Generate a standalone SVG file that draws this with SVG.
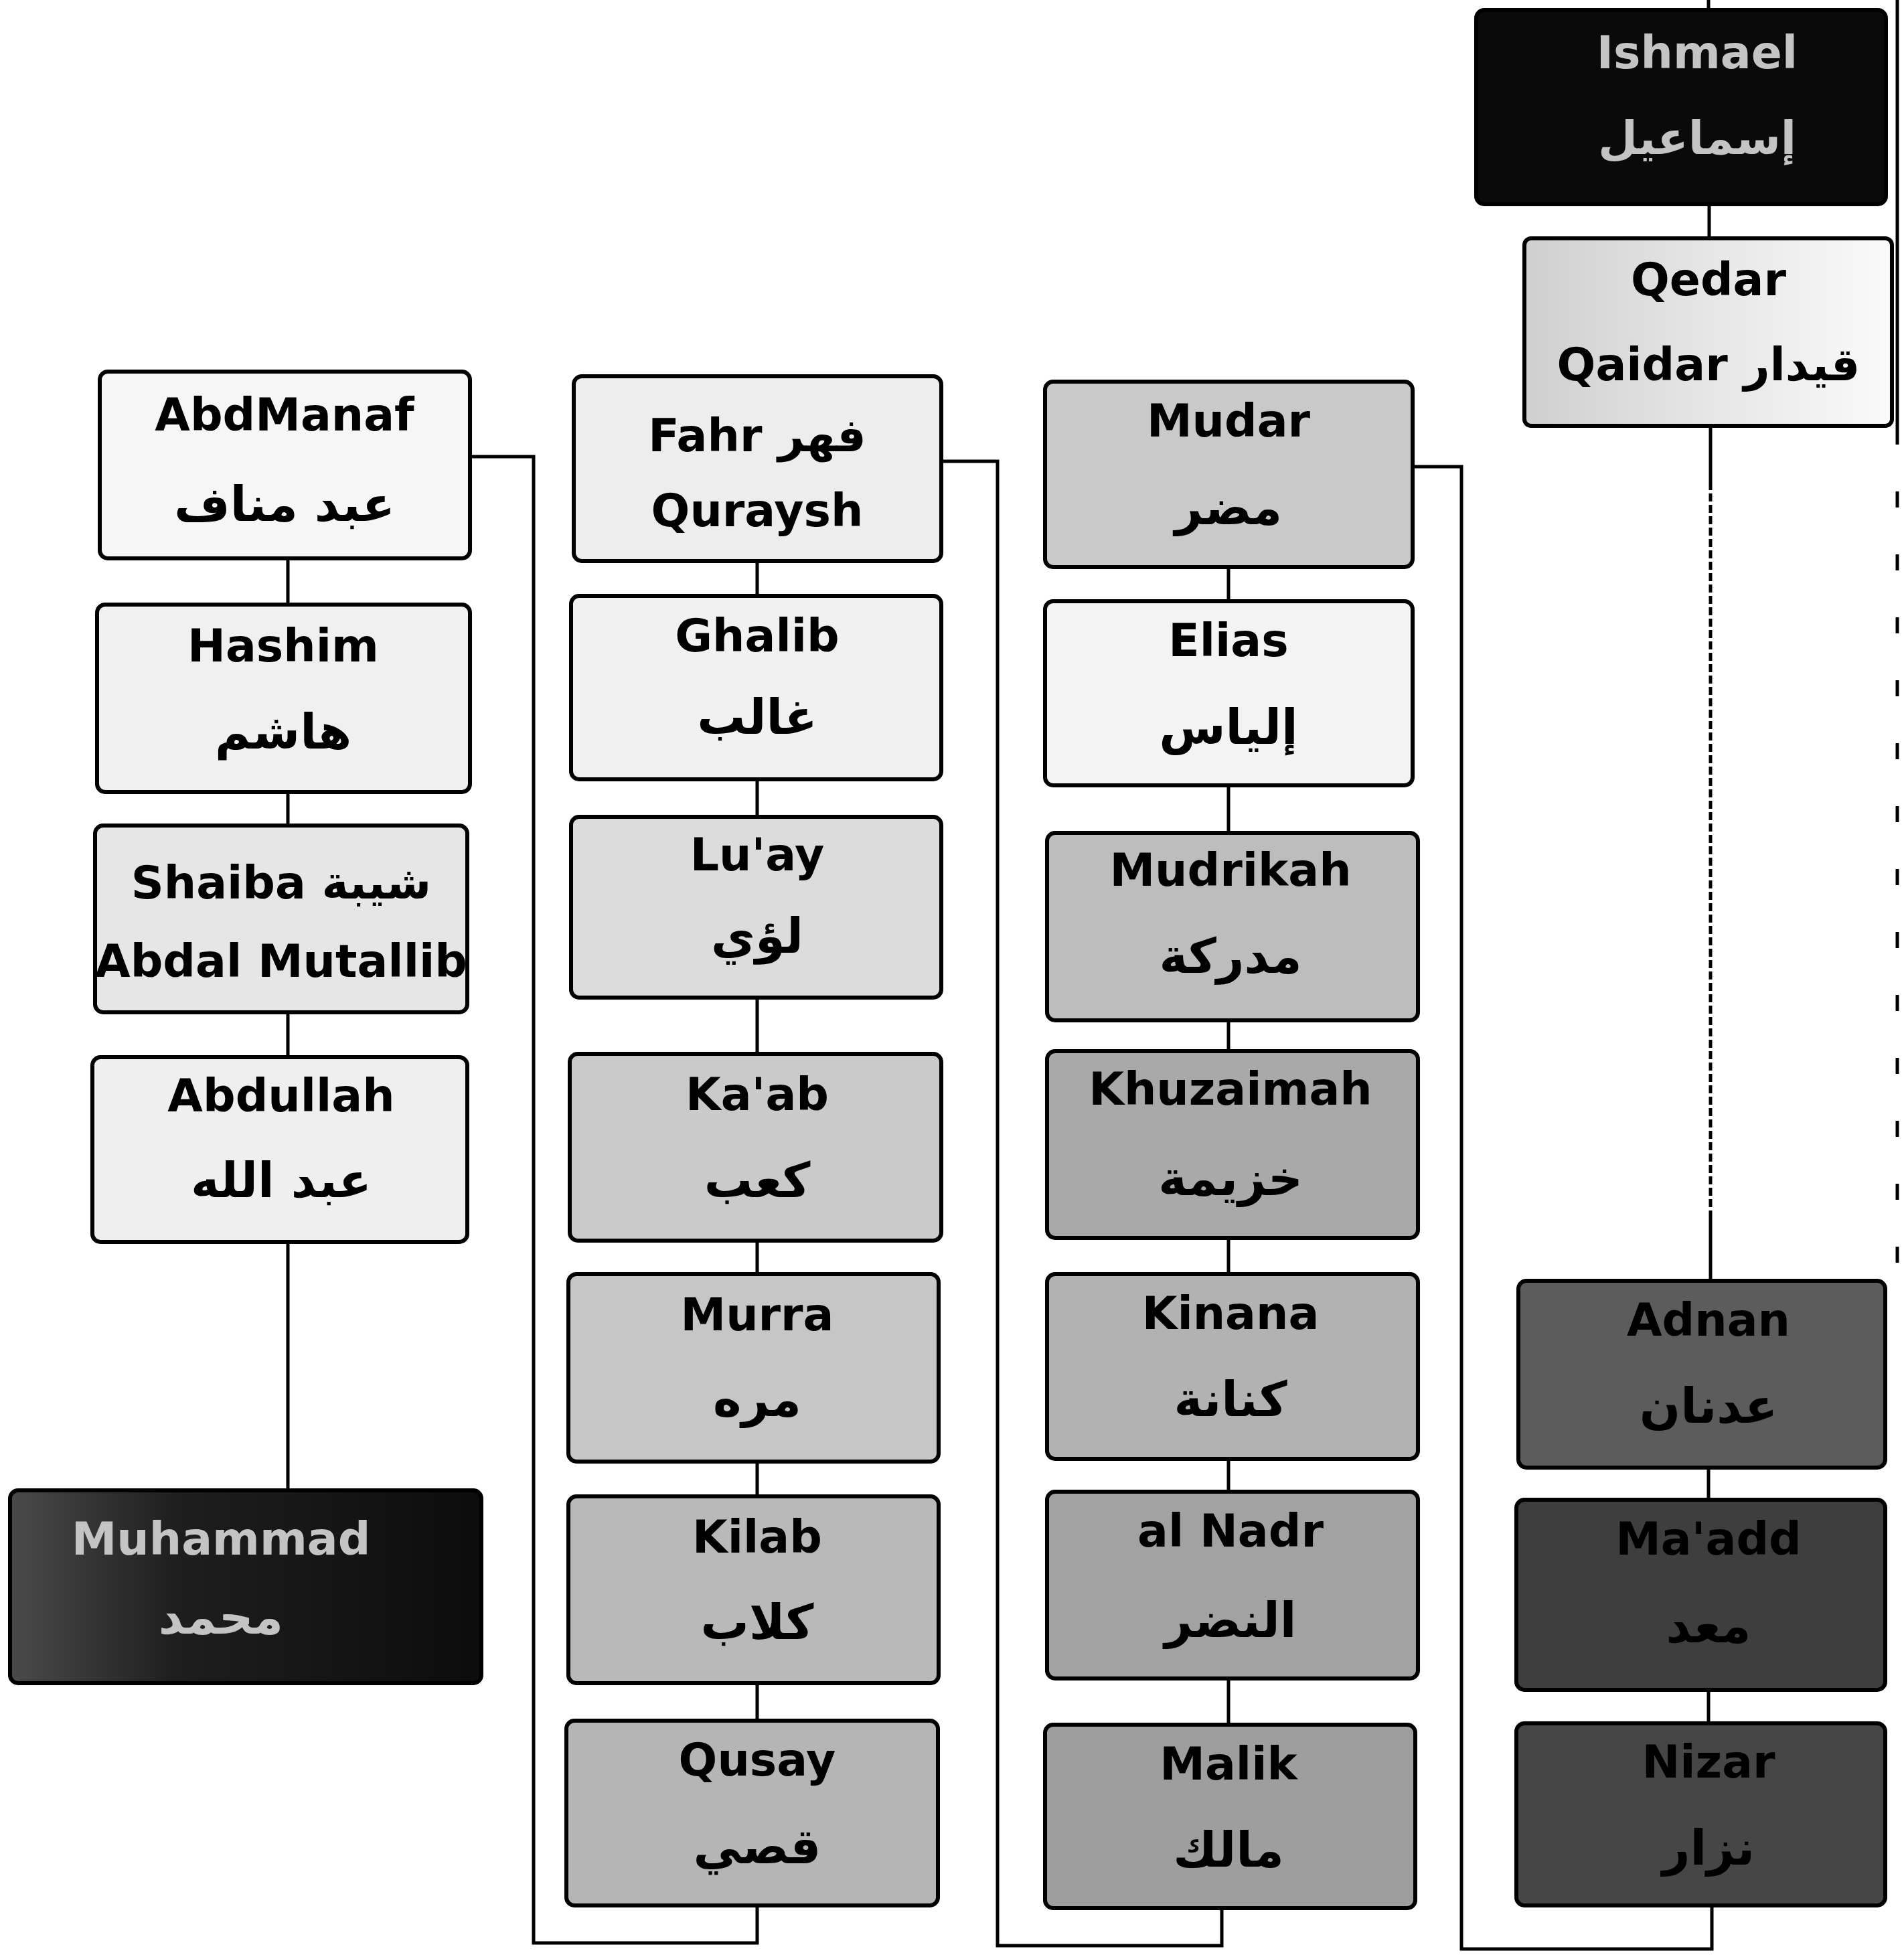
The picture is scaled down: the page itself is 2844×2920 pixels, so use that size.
<svg xmlns="http://www.w3.org/2000/svg" width="2844" height="2920" viewBox="0 0 2844 2920">
<style>
.box{stroke:#000;stroke-width:6}
.t{font-family:"DejaVu Sans","Liberation Sans",sans-serif;font-weight:bold;font-size:68px;text-anchor:middle;fill:#000}
.a{font-size:72px}
.w{fill:#c4c4c4}
.c{fill:none;stroke:#000;stroke-width:5}
</style>
<defs>
<linearGradient id="gMuh" x1="0" y1="0" x2="1" y2="0">
<stop offset="0" stop-color="#4a4a4a"/><stop offset="0.35" stop-color="#1e1e1e"/><stop offset="1" stop-color="#0c0c0c"/>
</linearGradient>
<linearGradient id="gQed" x1="0" y1="0" x2="1" y2="0">
<stop offset="0" stop-color="#cfcfcf"/><stop offset="0.5" stop-color="#e6e6e6"/><stop offset="1" stop-color="#fafafa"/>
</linearGradient>
</defs>
<rect width="2844" height="2920" fill="#fff"/>

<g id="connectors">
<path class="c" d="M2552 0 V15"/>
<path class="c" d="M2553 305 V356"/>
<path class="c" d="M2555 636 V720"/>
<path class="c" d="M2555 720 V1810" stroke-width="8" stroke-dasharray="12 5"/>
<path class="c" d="M2555 1810 V1913"/>
<path class="c" d="M2834 0 V640" stroke-width="5"/>
<path class="c" d="M2834 640 V1900" stroke-width="3" stroke-dasharray="24 70"/>
<path class="c" d="M430 834 V903 M430 1183 V1233 M430 1512 V1579 M430 1855 V2226"/>
<path class="c" d="M1131 838 V890 M1131 1164 V1220 M1131 1490 V1574 M1131 1853 V1903 M1131 2183 V2235 M1131 2514 V2570"/>
<path class="c" d="M1835 847 V898 M1835 1173 V1244 M1835 1524 V1570 M1835 1849 V1903 M1835 2179 V2228 M1835 2507 V2576"/>
<path class="c" d="M2552 2192 V2240 M2552 2524 V2574"/>
<path class="c" d="M702 682 H797 V2902 H1131 V2846"/>
<path class="c" d="M1406 689 H1490 V2906 H1825 V2850"/>
<path class="c" d="M2110 697 H2183 V2911 H2557 V2846"/>
</g>

<g id="abdmanaf"><rect class="box" x="149" y="555" width="553" height="279" rx="12" fill="#f6f6f6"/>
<text class="t" x="425" y="643">AbdManaf</text><text class="t a" x="425" y="778">عبد مناف</text></g>
<g id="hashim"><rect class="box" x="145" y="903" width="557" height="280" rx="12" fill="#f0f0f0"/>
<text class="t" x="423" y="988">Hashim</text><text class="t a" x="423" y="1118">هاشم</text></g>
<g id="shaiba"><rect class="box" x="142" y="1233" width="556" height="279" rx="12" fill="#e6e6e6"/>
<text class="t" x="420" y="1342">Shaiba شيبة</text><text class="t" x="420" y="1459">Abdal Mutallib</text></g>
<g id="abdullah"><rect class="box" x="138" y="1579" width="560" height="276" rx="12" fill="#efefef"/>
<text class="t" x="420" y="1660">Abdullah</text><text class="t a" x="420" y="1788">عبد الله</text></g>
<g id="muhammad"><rect class="box" x="15" y="2226" width="704" height="288" rx="12" fill="url(#gMuh)"/>
<text class="t w" x="330" y="2322" font-size="80">Muhammad</text><text class="t w a" x="330" y="2440">محمد</text></g>

<g id="fahr"><rect class="box" x="857" y="562" width="549" height="276" rx="12" fill="#ededed"/>
<text class="t" x="1131" y="674">Fahr فهر</text><text class="t" x="1131" y="786">Quraysh</text></g>
<g id="ghalib"><rect class="box" x="853" y="890" width="553" height="274" rx="12" fill="#f1f1f1"/>
<text class="t" x="1131" y="973">Ghalib</text><text class="t a" x="1131" y="1096">غالب</text></g>
<g id="luay"><rect class="box" x="853" y="1220" width="553" height="270" rx="12" fill="#dcdcdc"/>
<text class="t" x="1131" y="1300">Lu'ay</text><text class="t a" x="1131" y="1423">لؤي</text></g>
<g id="kaab"><rect class="box" x="851" y="1574" width="555" height="279" rx="12" fill="#cacaca"/>
<text class="t" x="1131" y="1658">Ka'ab</text><text class="t a" x="1131" y="1788">كعب</text></g>
<g id="murra"><rect class="box" x="849" y="1903" width="553" height="280" rx="12" fill="#c6c6c6"/>
<text class="t" x="1131" y="1987">Murra</text><text class="t a" x="1131" y="2115">مره</text></g>
<g id="kilab"><rect class="box" x="849" y="2235" width="553" height="279" rx="12" fill="#b9b9b9"/>
<text class="t" x="1131" y="2319">Kilab</text><text class="t a" x="1131" y="2448">كلاب</text></g>
<g id="qusay"><rect class="box" x="846" y="2570" width="555" height="276" rx="12" fill="#b5b5b5"/>
<text class="t" x="1131" y="2652">Qusay</text><text class="t a" x="1131" y="2783">قصي</text></g>

<g id="mudar"><rect class="box" x="1561" y="570" width="549" height="277" rx="12" fill="#c9c9c9"/>
<text class="t" x="1835" y="652">Mudar</text><text class="t a" x="1835" y="783">مضر</text></g>
<g id="elias"><rect class="box" x="1561" y="898" width="549" height="275" rx="12" fill="#f3f3f3"/>
<text class="t" x="1835" y="980">Elias</text><text class="t a" x="1835" y="1111">إلياس</text></g>
<g id="mudrikah"><rect class="box" x="1564" y="1244" width="554" height="280" rx="12" fill="#bdbdbd"/>
<text class="t" x="1838" y="1323">Mudrikah</text><text class="t a" x="1838" y="1453">مدركة</text></g>
<g id="khuzaimah"><rect class="box" x="1564" y="1570" width="554" height="279" rx="12" fill="#a9a9a9"/>
<text class="t" x="1838" y="1650">Khuzaimah</text><text class="t a" x="1838" y="1785">خزيمة</text></g>
<g id="kinana"><rect class="box" x="1564" y="1903" width="554" height="276" rx="12" fill="#b2b2b2"/>
<text class="t" x="1838" y="1985">Kinana</text><text class="t a" x="1838" y="2115">كنانة</text></g>
<g id="alnadr"><rect class="box" x="1564" y="2228" width="554" height="279" rx="12" fill="#a2a2a2"/>
<text class="t" x="1838" y="2310">al Nadr</text><text class="t a" x="1838" y="2445">النضر</text></g>
<g id="malik"><rect class="box" x="1561" y="2576" width="553" height="274" rx="12" fill="#9e9e9e"/>
<text class="t" x="1835" y="2658">Malik</text><text class="t a" x="1835" y="2788">مالك</text></g>

<g id="ishmael"><rect class="box" x="2205" y="15" width="612" height="290" rx="12" fill="#0a0a0a"/>
<text class="t w" x="2535" y="102">Ishmael</text><text class="t w" x="2535" y="230" font-size="50">إسماعيل</text></g>
<g id="qedar"><rect class="box" x="2277" y="356" width="549" height="280" rx="10" fill="url(#gQed)"/>
<text class="t" x="2552" y="441">Qedar</text><text class="t" x="2552" y="568">Qaidar قيدار</text></g>
<g id="adnan"><rect class="box" x="2268" y="1913" width="548" height="279" rx="12" fill="#5c5c5c"/>
<text class="t" x="2552" y="1995" fill="#111">Adnan</text><text class="t a" x="2552" y="2125" fill="#111">عدنان</text></g>
<g id="maadd"><rect class="box" x="2265" y="2240" width="551" height="284" rx="12" fill="#3e3e3e"/>
<text class="t" x="2552" y="2322" fill="#111">Ma'add</text><text class="t a" x="2552" y="2453" fill="#111">معد</text></g>
<g id="nizar"><rect class="box" x="2265" y="2574" width="551" height="272" rx="12" fill="#464646"/>
<text class="t" x="2552" y="2655" fill="#111">Nizar</text><text class="t a" x="2552" y="2785" fill="#111">نزار</text></g>
</svg>
